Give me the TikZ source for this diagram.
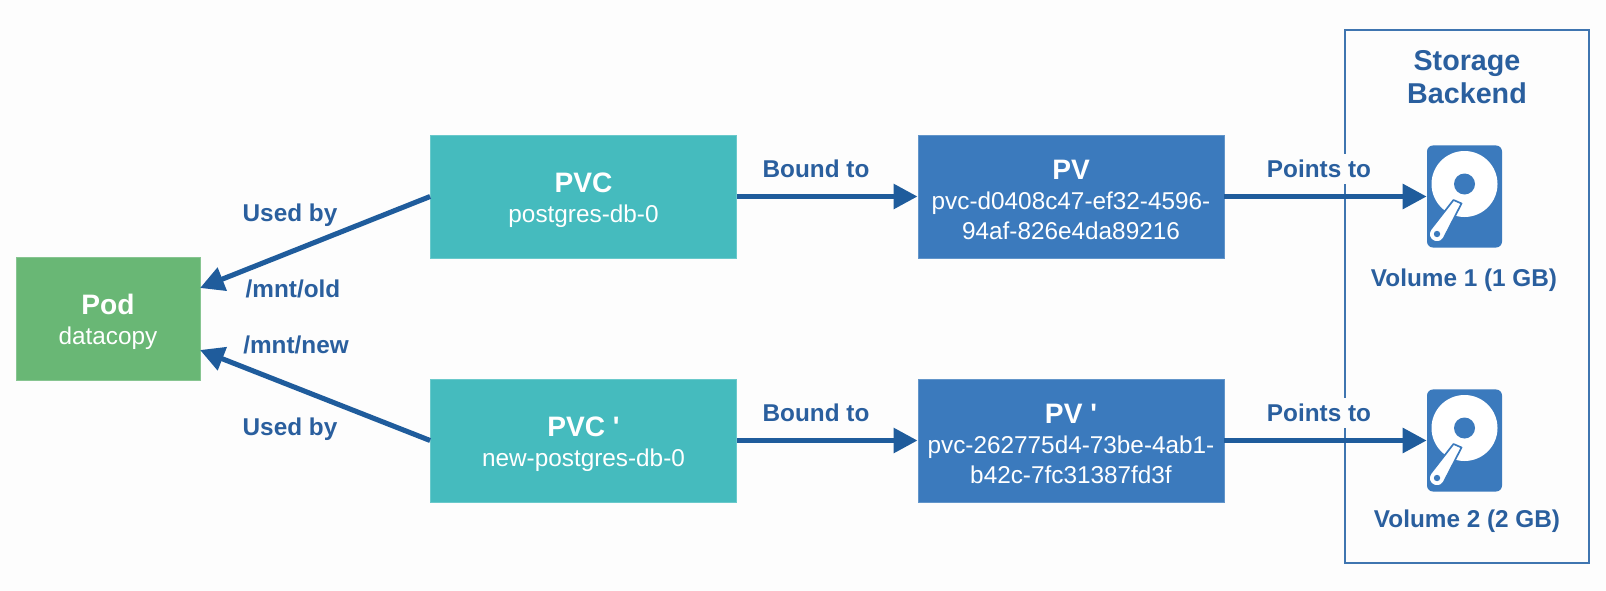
\documentclass[tikz,border=0pt]{standalone}
\usepackage{fontspec}
\setmainfont{Liberation Sans}
\setsansfont{Liberation Sans}[Ligatures=TeXOff]
\usetikzlibrary{positioning, arrows.meta}
\definecolor{ink}{HTML}{2A5F9E}
\definecolor{flow}{HTML}{1F5C9C}
\definecolor{frameblue}{HTML}{3F75B0}
\definecolor{podgreen}{HTML}{69B775}
\definecolor{pvcteal}{HTML}{45BBBE}
\definecolor{pvblue}{HTML}{3B7ABD}
\definecolor{paper}{HTML}{FDFDFD}
\newcommand{\boxtitle}[1]{{\fontsize{20}{21.3}\selectfont\bfseries\rule{0pt}{18.6pt}#1}}
\tikzset{
  every node/.style = {font=\sffamily},
  kbbase/.style   = {align=center, text=white, inner sep=0pt, font=\sffamily\fontsize{17.3}{21.3}\selectfont},
  kbpod/.style    = {kbbase, fill=podgreen, draw=podgreen!80!white, line width=0.5pt, minimum width=46mm, minimum height=30.75mm},
  kbpvc/.style    = {kbbase, fill=pvcteal, draw=pvcteal!80!white, line width=0.5pt, minimum width=76.5mm, minimum height=30.75mm},
  kbpv/.style     = {kbbase, fill=pvblue, draw=pvblue!80!white, line width=0.5pt, minimum width=76.5mm, minimum height=30.75mm},
  kbdisk/.style   = {fill=pvblue, rounded corners=1.5mm, inner sep=0pt, minimum width=18.75mm, minimum height=25.5mm},
  kblab/.style    = {font=\sffamily\bfseries\fontsize{17.3}{21}\selectfont, text=ink, inner sep=1pt},
  kbgap/.style    = {kblab, fill=paper, inner ysep=4pt},
  kbgo/.style     = {-{Triangle[length=6mm,width=6mm]}, draw=flow, line width=4pt},
  kbuse/.style    = {-{Triangle[length=6mm,width=6mm]}, draw=flow, line width=3.6pt},
}
\begin{document}
\begin{tikzpicture}[x=0.025cm, y=-0.025cm]
\useasboundingbox[fill=paper] (0,0) rectangle (1606,591);

% storage frame goes first, labels cut it
\node[draw=frameblue, line width=1.1pt, minimum width=61.05mm, minimum height=133.3mm, inner sep=0pt] (backend) at (1467,296.5) {};

\node[kbpod] (pod) at (108,318.5) {\boxtitle{Pod}\\datacopy};
\node[kbpvc] (pvc) at (583.5,196.5) {\boxtitle{PVC}\\postgres-db-0};
\node[kbpvc] (pvcnew) at (583.5,440.5) {\boxtitle{PVC '}\\new-postgres-db-0};
\node[kbpv] (pv) at (1071,196.5) {\boxtitle{PV}\\pvc-d0408c47-ef32-4596-\\94af-826e4da89216};
\node[kbpv] (pvnew) at (1071,440.5) {\boxtitle{PV '}\\pvc-262775d4-73be-4ab1-\\b42c-7fc31387fd3f};

\node[kbdisk] (disk1) at (1464.5,196.5) {};
\node[kbdisk] (disk2) at (1464.5,440.5) {};

% platter and arm of each disk
\foreach \d in {disk1, disk2} {
  \begin{scope}[shift={(\d)}]
    \fill[white] (0,-12.5) circle (33);
    \fill[pvblue] (0,-12.5) circle (10.5);
    \draw[pvblue, line width=1.2pt, fill=white, line join=round]
      (-11,3.5) -- (-3,7) -- (-20.8,41.8) .. controls (-26.5,50.8) and (-40,42.4) .. (-34.2,33.2) -- cycle;
    \fill[pvblue] (-27.5,37.5) circle (3.2);
  \end{scope}
}

\coordinate (podtop) at (200,288);
\coordinate (podbot) at (200,350);

\draw[kbuse] (pvc.west) -- (podtop);
\draw[kbuse] (pvcnew.west) -- (podbot);
\draw[kbgo] (pvc.east) -- (pv.west);
\draw[kbgo] (pvcnew.east) -- (pvnew.west);
\draw[kbgo] (pv.east) -- (disk1.west);
\draw[kbgo] (pvnew.east) -- (disk2.west);

\node[kblab] (used1) at (290,215) {Used by};
\node[kblab] (old) at (293,289) {/mnt/old};
\node[kblab] (new) at (296,345) {/mnt/new};
\node[kblab] (used2) at (290,429) {Used by};
\node[kblab] (bound1) at (816,169) {Bound to};
\node[kblab] (bound2) at (816,413) {Bound to};
\node[kbgap] (points1) at (1319,169) {Points to};
\node[kbgap] (points2) at (1319,413) {Points to};

\node[kblab, font=\sffamily\bfseries\fontsize{20.4}{24}\selectfont, align=center] (title) at (1467,77) {Storage\\Backend};
\node[kblab] (vol1) at (1464,280) {Volume 1 (1 GB)};
\node[kblab] (vol2) at (1467,521) {Volume 2 (2 GB)};
\end{tikzpicture}
\end{document}
